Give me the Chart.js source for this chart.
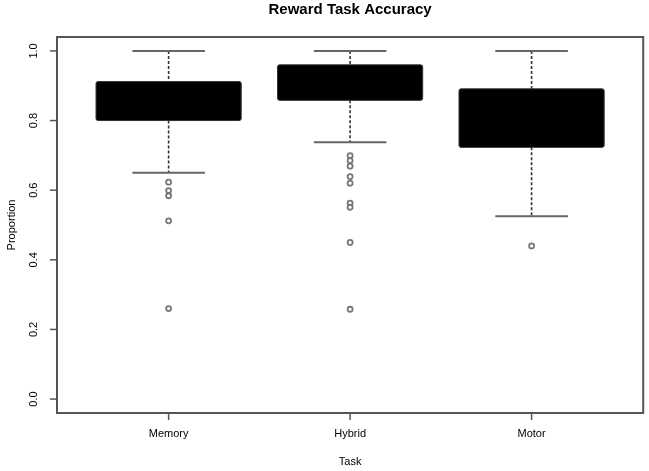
<!DOCTYPE html>
<html>
<head>
<meta charset="utf-8">
<script src="https://cdn.jsdelivr.net/npm/chart.js@4"></script>
<style>
  body { margin: 0; background: #fff; }
  canvas { display: block; }
</style>
</head>
<body>
<canvas id="chart" width="649" height="471"></canvas>
<script>
const tasks = ["Memory", "Hybrid", "Motor"];
const whiskerLow = [0.65, 0.738, 0.525];
const q1 = [0.80, 0.858, 0.723];
const q3 = [0.912, 0.960, 0.891];
const whiskerHigh = [1.0, 1.0, 1.0];
const outliers = [
  [0.623, 0.599, 0.584, 0.512, 0.26],
  [0.699, 0.685, 0.669, 0.639, 0.62, 0.563, 0.551, 0.45, 0.258],
  [0.44],
];
const yTicks = [0, 0.2, 0.4, 0.6, 0.8, 1.0];

const outlierPoints = [];
outliers.forEach((list, i) => {
  list.forEach((v) => outlierPoints.push({ x: i + 1, y: v }));
});

// boxes, whiskers, axes and text drawn with the chart's own scales
const boxPlugin = {
  id: "boxPlugin",
  beforeDatasetsDraw(chart) {
    const { ctx } = chart;
    const xs = chart.scales.x;
    const ys = chart.scales.y;
    ctx.save();
    tasks.forEach((t, i) => {
      const cx = xs.getPixelForValue(i + 1);
      const bw = xs.getPixelForValue(i + 1.4) - cx;
      const sw = xs.getPixelForValue(i + 1.2) - cx;
      const yLo = ys.getPixelForValue(whiskerLow[i]);
      const yHi = ys.getPixelForValue(whiskerHigh[i]);
      const yQ1 = ys.getPixelForValue(q1[i]);
      const yQ3 = ys.getPixelForValue(q3[i]);

      // dashed whiskers
      ctx.strokeStyle = "#333";
      ctx.lineWidth = 1.6;
      ctx.setLineDash([3, 2]);
      ctx.beginPath();
      ctx.moveTo(cx, yHi);
      ctx.lineTo(cx, yQ3);
      ctx.moveTo(cx, yQ1);
      ctx.lineTo(cx, yLo);
      ctx.stroke();
      ctx.setLineDash([]);

      // staples
      ctx.strokeStyle = "#666";
      ctx.lineWidth = 2;
      ctx.beginPath();
      ctx.moveTo(cx - sw, yHi);
      ctx.lineTo(cx + sw, yHi);
      ctx.moveTo(cx - sw, yLo);
      ctx.lineTo(cx + sw, yLo);
      ctx.stroke();

      // box
      ctx.fillStyle = "#000";
      ctx.strokeStyle = "#333";
      ctx.lineWidth = 1;
      ctx.beginPath();
      ctx.roundRect(cx - bw, yQ3, bw * 2, yQ1 - yQ3, 2);
      ctx.fill();
      ctx.stroke();
    });
    ctx.restore();
  },
  afterDraw(chart) {
    const { ctx, chartArea: a } = chart;
    const xs = chart.scales.x;
    const ys = chart.scales.y;
    ctx.save();

    // frame
    ctx.strokeStyle = "#555";
    ctx.lineWidth = 2;
    ctx.strokeRect(a.left, a.top, a.right - a.left, a.bottom - a.top);

    // y ticks
    ctx.lineWidth = 1.5;
    ctx.fillStyle = "#000";
    ctx.font = "11px 'Liberation Sans', Arial, sans-serif";
    ctx.textAlign = "center";
    ctx.textBaseline = "middle";
    yTicks.forEach((v) => {
      const y = ys.getPixelForValue(v);
      ctx.beginPath();
      ctx.moveTo(a.left - 7, y);
      ctx.lineTo(a.left, y);
      ctx.stroke();
      ctx.save();
      ctx.translate(a.left - 23, y);
      ctx.rotate(-Math.PI / 2);
      ctx.fillText(v.toFixed(1), 0, 0);
      ctx.restore();
    });

    // x ticks
    tasks.forEach((t, i) => {
      const x = xs.getPixelForValue(i + 1);
      ctx.beginPath();
      ctx.moveTo(x, a.bottom);
      ctx.lineTo(x, a.bottom + 7);
      ctx.stroke();
      ctx.fillText(t, x, a.bottom + 21);
    });

    // axis titles
    const midX = (a.left + a.right) / 2;
    ctx.fillText("Task", midX, a.bottom + 49);
    ctx.save();
    ctx.translate(12, (a.top + a.bottom) / 2);
    ctx.rotate(-Math.PI / 2);
    ctx.fillText("Proportion", 0, 0);
    ctx.restore();

    // main title
    ctx.font = "bold 15px 'Liberation Sans', Arial, sans-serif";
    ctx.fillStyle = "#000";
    ctx.fillText("Reward Task Accuracy", midX, 10);
    ctx.restore();
  },
};

const ctx = document.getElementById("chart").getContext("2d");
const chart = new Chart(ctx, {
  type: "scatter",
  data: {
    datasets: [
      {
        label: "Outliers",
        data: outlierPoints,
        pointStyle: "circle",
        pointRadius: 2.5,
        pointBorderWidth: 1.8,
        borderColor: "#777",
        backgroundColor: "#fff",
      },
    ],
  },
  options: {
    responsive: false,
    animation: false,
    layout: {
      padding: { left: 57, right: 4, top: 37, bottom: 58 },
    },
    scales: {
      x: { type: "linear", min: 0.385, max: 3.615, display: false },
      y: { type: "linear", min: -0.04, max: 1.04, display: false },
    },
    plugins: {
      legend: { display: false },
      tooltip: { enabled: false },
      title: { display: false },
    },
  },
  plugins: [boxPlugin],
});
</script>
</body>
</html>
